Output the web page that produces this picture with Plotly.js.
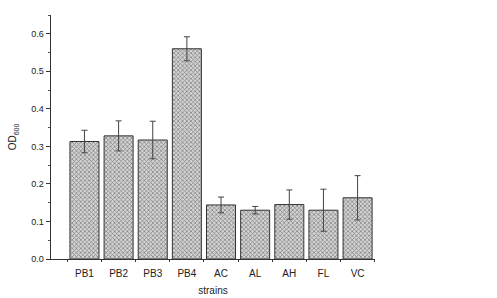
<!DOCTYPE html>
<html>
<head>
<meta charset="utf-8">
<script src="https://cdn.plot.ly/plotly-3.0.1.min.js"></script>
<style>html,body{margin:0;padding:0;background:#fff;}#chart{width:497px;height:298px;}</style>
</head>
<body>
<div id="chart"></div>
<script>
const strains = ["PB1","PB2","PB3","PB4","AC","AL","AH","FL","VC"];
const od600 = [0.313,0.328,0.317,0.560,0.144,0.130,0.145,0.130,0.163];
const errors = [0.030,0.040,0.050,0.032,0.021,0.010,0.039,0.056,0.059];

const trace = {
  type: "bar",
  x: strains,
  y: od600,
  width: 0.85,
  marker: {
    color: "#c8c8c8",
    line: {color: "#333333", width: 1},
    pattern: {shape: "x", size: 3, solidity: 0.4, fgcolor: "#7a7a7a", bgcolor: "#d4d4d4"}
  },
  error_y: {type: "data", array: errors, symmetric: true, visible: true, color: "#444444", thickness: 1, width: 3}
};

const layout = {
  width: 497, height: 298,
  margin: {l: 51, r: 122, t: 15, b: 39},
  paper_bgcolor: "#ffffff", plot_bgcolor: "#ffffff",
  showlegend: false,
  font: {family: "Liberation Sans, Arial, sans-serif", size: 9, color: "#222"},
  xaxis: {
    type: "category",
    range: [-0.98, 8.51],
    showline: true, linecolor: "#333", linewidth: 1,
    ticks: "outside", tickson: "boundaries", ticklen: 2, tickcolor: "#333",
    ticklabelstandoff: 5,
    showgrid: false, zeroline: false,
    tickfont: {size: 10},
    title: {text: "strains", font: {size: 10}, standoff: 8}
  },
  yaxis: {
    range: [0, 0.65],
    showline: true, linecolor: "#333", linewidth: 1.5,
    ticks: "outside", ticklen: 4, tickcolor: "#333",
    dtick: 0.1, tickformat: ".1f",
    minor: {dtick: 0.05, ticks: "outside", ticklen: 2, tickcolor: "#555"},
    showgrid: false, zeroline: false,
    tickfont: {size: 9},
    title: {text: "OD<sub>600</sub>", font: {size: 10}, standoff: 12}
  }
};

Plotly.newPlot("chart", [trace], layout, {displayModeBar: false, staticPlot: true});
</script>
</body>
</html>
